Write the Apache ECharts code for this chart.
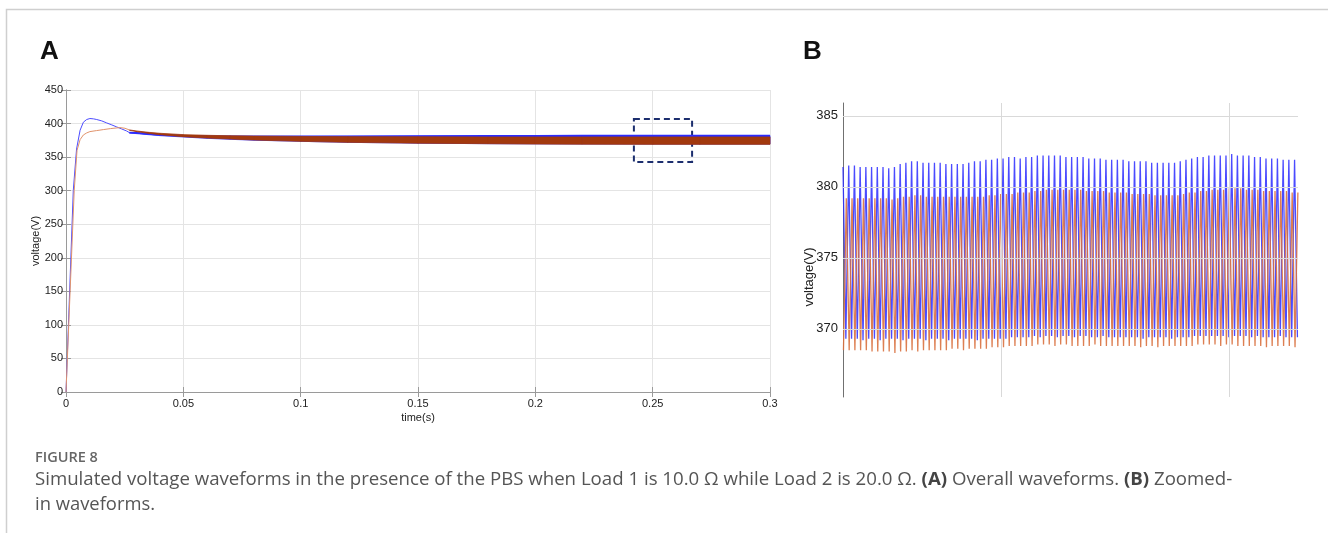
<!DOCTYPE html>
<html>
<head>
<meta charset="utf-8">
<script src="https://cdn.jsdelivr.net/npm/echarts@6/dist/echarts.min.js"></script>
<style>
html,body{margin:0;padding:0;background:#fff;}
#c{width:1328px;height:533px;}
</style>
</head>
<body>
<div id="c"></div>
<script>
// ---------- Panel A: overall waveforms ----------
const xTicksA = [0, 0.05, 0.1, 0.15, 0.2, 0.25, 0.3];
const yTicksA = [0, 50, 100, 150, 200, 250, 300, 350, 400, 450];

// start-up transients (time s, voltage V)
const blueStartT = [0, 0.0005, 0.0031, 0.0045, 0.006, 0.0074, 0.0088, 0.0102, 0.0117, 0.0131, 0.0152, 0.0173, 0.0195, 0.0216, 0.0237, 0.0258, 0.027];
const blueStartV = [0, 0, 300, 362, 390, 402, 406, 407.5, 407, 406, 404, 401, 398, 395, 392, 389, 386.5];
const orangeStartT = [0, 0.0006, 0.0035, 0.0047, 0.006, 0.0074, 0.0088, 0.0102, 0.013, 0.0159, 0.019, 0.023, 0.0251, 0.027];
const orangeStartV = [0, 0, 300, 360, 376, 383, 386, 388, 389.5, 391, 392.5, 394, 393, 390.5];

// steady-state ripple envelopes
const bandT = [0.027, 0.03, 0.035, 0.04, 0.05, 0.06, 0.07, 0.08, 0.1, 0.12, 0.15, 0.18, 0.2, 0.22, 0.25, 0.27, 0.3];
const blueUpperA = [386.5, 386.2, 384.8, 383.5, 382, 381.3, 381, 380.8, 380.8, 381, 381.3, 381.5, 381.7, 381.8, 382, 382.1, 382];
const blueLowerA = [386, 385, 383.5, 382, 380, 378, 376.5, 375.2, 373.5, 372, 370.8, 370, 369.7, 369.5, 369.4, 369.4, 369.4];
const orangeUpperA = [390.5, 389, 387, 385.5, 383.5, 382.5, 381.8, 381.3, 380.8, 380.5, 380.3, 380, 380, 380, 380, 380, 380];
const orangeLowerA = [390, 388, 385.5, 383.5, 380.5, 378.5, 377, 375.5, 373.5, 372, 370.8, 370, 369.5, 369.3, 369, 369, 369];

// zoom window marked on panel A
const zoomBox = [[0.242, 406.8], [0.2668, 342.7]];

// ---------- Panel B: zoomed-in waveforms ----------
const yTicksB = [370, 375, 380, 385];
const xGridB = [0.245, 0.25, 0.255, 0.26];
const cycleStartB = 0.2431;   // s
const cyclePeriodB = 0.00025; // s
const bluePeaksB = [
 381.4,381.5,381.5,381.4,381.4,381.4,381.4,381.4,381.3,381.4,
 381.6,381.7,381.8,381.8,381.7,381.7,381.7,381.7,381.6,381.6,
 381.6,381.6,381.7,381.8,381.8,381.9,381.9,382.0,382.0,382.1,
 382.1,382.0,382.1,382.1,382.2,382.2,382.2,382.2,382.2,382.1,
 382.1,382.1,382.1,382.0,382.0,382.0,381.9,381.9,381.9,381.9,
 381.8,381.8,381.8,381.8,381.7,381.7,381.7,381.7,381.7,381.8,
 381.9,382.0,382.1,382.1,382.2,382.2,382.2,382.2,382.3,382.2,
 382.2,382.2,382.1,382.1,382.0,382.0,382.0,381.9,381.9,381.9];
const blueTroughsB = [
 369.3,369.3,369.3,369.2,369.3,369.3,369.2,369.3,369.3,369.3,
 369.2,369.3,369.3,369.3,369.2,369.3,369.3,369.3,369.2,369.3,
 369.3,369.3,369.3,369.2,369.3,369.3,369.3,369.3,369.3,369.4,
 369.4,369.4,369.4,369.5,369.4,369.5,369.5,369.4,369.5,369.5,
 369.4,369.5,369.5,369.4,369.4,369.5,369.4,369.4,369.4,369.4,
 369.4,369.4,369.3,369.4,369.4,369.4,369.4,369.3,369.4,369.4,
 369.4,369.5,369.5,369.5,369.5,369.5,369.5,369.4,369.5,369.5,
 369.5,369.4,369.5,369.4,369.4,369.4,369.5,369.4,369.4,369.4];
const orangePeaksB = [
 379.2,379.2,379.2,379.2,379.2,379.2,379.2,379.2,379.1,379.2,
 379.3,379.3,379.4,379.4,379.3,379.3,379.3,379.3,379.3,379.3,
 379.3,379.3,379.3,379.3,379.3,379.4,379.4,379.5,379.5,379.5,
 379.6,379.6,379.6,379.7,379.7,379.8,379.8,379.8,379.8,379.8,
 379.8,379.8,379.7,379.7,379.7,379.7,379.6,379.6,379.6,379.6,
 379.5,379.5,379.5,379.5,379.4,379.4,379.4,379.4,379.4,379.5,
 379.6,379.6,379.7,379.7,379.8,379.8,379.8,379.9,379.9,379.9,
 379.8,379.8,379.8,379.7,379.7,379.7,379.7,379.7,379.6,379.6];
const orangeTroughsB = [
 368.5,368.5,368.5,368.5,368.5,368.4,368.4,368.4,368.4,368.3,
 368.4,368.4,368.5,368.4,368.5,368.5,368.5,368.5,368.5,368.6,
 368.6,368.5,368.6,368.6,368.6,368.6,368.7,368.7,368.7,368.8,
 368.8,368.8,368.8,368.8,368.9,368.9,368.9,368.8,368.9,368.9,
 368.8,368.8,368.8,368.8,368.9,368.8,368.8,368.8,368.8,368.8,
 368.8,368.8,368.7,368.8,368.8,368.7,368.8,368.8,368.8,368.8,
 368.8,368.8,368.9,368.9,368.9,368.9,368.8,368.9,368.9,368.8,
 368.8,368.8,368.8,368.8,368.7,368.8,368.8,368.8,368.8,368.7];

const captionTitle = 'FIGURE 8';
const captionLine1 = 'Simulated voltage waveforms in the presence of the PBS when Load 1 is 10.0 Ω while Load 2 is 20.0 Ω. {b|(A)} Overall waveforms. {b|(B)} Zoomed-';
const captionLine2 = 'in waveforms.';

// ---------- build series data ----------
const zip = (a, b) => a.map((v, i) => [v, b[i]]);
const blueStartA = zip(blueStartT, blueStartV);
const orangeStartA = zip(orangeStartT, orangeStartV);
const blueBandData = bandT.map((t, i) => [t, blueLowerA[i], blueUpperA[i]]);
const orangeBandData = bandT.map((t, i) => [t, orangeLowerA[i], orangeUpperA[i]]);
const blueTopA = zip(bandT, blueUpperA);

function bandRenderer(data, color) {
  return function (params, api) {
    const i = params.dataIndex;
    if (i >= data.length - 1) return null;
    const a = data[i], b = data[i + 1];
    const pts = [
      api.coord([a[0], a[1]]), api.coord([b[0], b[1]]),
      api.coord([b[0], b[2]]), api.coord([a[0], a[2]])
    ];
    return {type: 'polygon', shape: {points: pts},
            style: {fill: color, stroke: color, lineWidth: 0.8}};
  };
}

const blueB = [], orangeB = [];
for (let i = 0; i < bluePeaksB.length; i++) {
  const t = cycleStartB + i * cyclePeriodB;
  blueB.push([t, bluePeaksB[i]]);
  blueB.push([t + 0.5 * cyclePeriodB, blueTroughsB[i]]);
  orangeB.push([t + 0.08 * cyclePeriodB, orangeTroughsB[i]]);
  orangeB.push([t + 0.58 * cyclePeriodB, orangePeaksB[i]]);
}

const BLUE = '#2b2bff';
const ORANGE = '#d9713f';
const BAND = '#a2390e';
const FONT = 'Liberation Sans, Arial, sans-serif';
const CAPFONT = '"Open Sans", sans-serif';
const axisGray = '#9a9a9a';

const gridLineStyle = {color: '#d9d9d9', width: 1, type: 'solid'};
const gridMarks = {
  silent: true, symbol: 'none', animation: false,
  label: {show: false}, lineStyle: gridLineStyle,
  data: xGridB.map(v => ({xAxis: v})).concat(yTicksB.map(v => ({yAxis: v})))
};

const chart = echarts.init(document.getElementById('c'), null, {renderer: 'canvas'});
const option = {
  animation: false,
  backgroundColor: '#fff',
  grid: [
    {left: 66, top: 90, width: 704, height: 302},
    {left: 843, top: 103, width: 455, height: 294}
  ],
  xAxis: [
    {gridIndex: 0, type: 'value', min: 0, max: 0.3, interval: 0.05, position: 'bottom',
     name: 'time(s)', nameLocation: 'middle', nameGap: 20, nameMoveOverlap: false,
     nameTextStyle: {fontFamily: FONT, fontSize: 11, color: '#222'},
     axisLine: {lineStyle: {color: axisGray, width: 1}},
     axisTick: {inside: true, length: 5, lineStyle: {color: axisGray}},
     axisLabel: {fontFamily: FONT, fontSize: 11, color: '#222', margin: 6,
       formatter: v => String(+v.toFixed(2))},
     splitLine: {show: true, lineStyle: {color: '#e4e4e4', width: 1}}},
    {gridIndex: 0, type: 'value', min: 0, max: 0.3, interval: 0.05, position: 'top',
     axisLine: {lineStyle: {color: axisGray}},
     axisTick: {inside: true, length: 5, lineStyle: {color: axisGray}},
     axisLabel: {show: false}, splitLine: {show: false}},
    {gridIndex: 1, type: 'value', min: 0.2431, max: 0.2630,
     axisLine: {show: false}, axisTick: {show: false}, axisLabel: {show: false},
     splitLine: {show: false}}
  ],
  yAxis: [
    {gridIndex: 0, type: 'value', min: 0, max: 450, interval: 50,
     name: 'voltage(V)', nameLocation: 'middle', nameGap: 25, nameMoveOverlap: false,
     nameTextStyle: {fontFamily: FONT, fontSize: 11, color: '#222'},
     axisLine: {lineStyle: {color: axisGray}},
     axisTick: {inside: true, length: 5, lineStyle: {color: axisGray}},
     axisLabel: {fontFamily: FONT, fontSize: 11, color: '#222', margin: 3},
     splitLine: {show: true, lineStyle: {color: '#e4e4e4', width: 1}}},
    {gridIndex: 0, type: 'value', min: 0, max: 450, interval: 50, position: 'right',
     axisLine: {lineStyle: {color: axisGray}},
     axisTick: {inside: true, length: 5, lineStyle: {color: axisGray}},
     axisLabel: {show: false}, splitLine: {show: false}},
    {gridIndex: 1, type: 'value', min: 365.2, max: 385.9,
     axisLine: {lineStyle: {color: '#707070', width: 1}},
     axisTick: {inside: true, length: 9, customValues: yTicksB, lineStyle: {color: '#707070'}},
     axisLabel: {fontFamily: FONT, fontSize: 13, color: '#222', margin: 5,
       customValues: yTicksB},
     splitLine: {show: false}}
  ],
  series: [
    // Panel A: blue ripple band and its top edge
    {type: 'custom', xAxisIndex: 0, yAxisIndex: 0, data: blueBandData,
     renderItem: bandRenderer(blueBandData, BLUE), z: 2, silent: true},
    {type: 'line', xAxisIndex: 0, yAxisIndex: 0, data: blueTopA, showSymbol: false,
     lineStyle: {color: BLUE, width: 1.8}, z: 2},
    // Panel A: orange ripple band (dense, appears dark red)
    {type: 'custom', xAxisIndex: 0, yAxisIndex: 0, data: orangeBandData,
     renderItem: bandRenderer(orangeBandData, BAND), z: 3, silent: true},
    // Panel A: start-up transients
    {type: 'line', xAxisIndex: 0, yAxisIndex: 0, data: blueStartA, showSymbol: false,
     lineStyle: {color: '#4d4dff', width: 1}, z: 4},
    {type: 'line', xAxisIndex: 0, yAxisIndex: 0, data: orangeStartA, showSymbol: false,
     lineStyle: {color: '#e0936c', width: 1}, z: 4,
     markArea: {silent: true, data: [[{coord: zoomBox[0]}, {coord: zoomBox[1]}]],
       itemStyle: {color: 'rgba(0,0,0,0)', borderColor: '#1c2e6e', borderWidth: 2, borderType: [6, 4]}}},
    // Panel B
    {type: 'line', xAxisIndex: 2, yAxisIndex: 2, data: blueB, showSymbol: false,
     lineStyle: {color: BLUE, width: 1.3, opacity: 0.85}, z: 2},
    {type: 'line', xAxisIndex: 2, yAxisIndex: 2, data: orangeB, showSymbol: false,
     lineStyle: {color: ORANGE, width: 1.3, opacity: 0.9}, z: 3,
     markLine: gridMarks}
  ],
  graphic: [
    {type: 'rect', left: 4, top: 7, silent: true, z: -1,
     shape: {width: 1323, height: 540},
     style: {fill: 'none', stroke: '#cfcfcf', lineWidth: 1.5}},
    {type: 'text', x: 40, y: 52,
     style: {text: 'A', font: 'bold 26px ' + FONT, fill: '#111', verticalAlign: 'middle'}},
    {type: 'text', x: 803, y: 52,
     style: {text: 'B', font: 'bold 26px ' + FONT, fill: '#111', verticalAlign: 'middle'}},
    {type: 'text', x: 809, y: 277, rotation: Math.PI / 2,
     style: {text: 'voltage(V)', font: '13px ' + FONT, fill: '#222', align: 'center', verticalAlign: 'middle'}},
    {type: 'text', x: 35, y: 458,
     style: {text: captionTitle, font: '600 14.5px ' + CAPFONT, fill: '#666', verticalAlign: 'middle'}},
    {type: 'text', x: 35, y: 480,
     style: {text: captionLine1, font: '18.65px ' + CAPFONT, fill: '#555', verticalAlign: 'middle',
       rich: {b: {fontWeight: 'bold', fontSize: 18.65, fontFamily: 'Open Sans', fill: '#444'}}}},
    {type: 'text', x: 35, y: 505,
     style: {text: captionLine2, font: '18.4px ' + CAPFONT, fill: '#555', verticalAlign: 'middle'}}
  ]
};
chart.setOption(option);
</script>
</body>
</html>
